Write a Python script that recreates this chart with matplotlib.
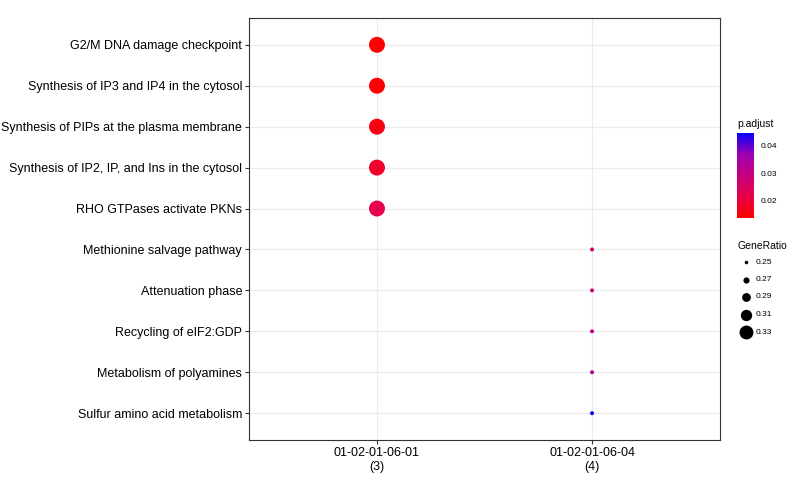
import matplotlib.pyplot as plt
import numpy as np
from matplotlib.colors import LinearSegmentedColormap, Normalize

plt.rcParams["font.family"] = ["Liberation Sans", "DejaVu Sans"]

terms = [
    "G2/M DNA damage checkpoint",
    "Synthesis of IP3 and IP4 in the cytosol",
    "Synthesis of PIPs at the plasma membrane",
    "Synthesis of IP2, IP, and Ins in the cytosol",
    "RHO GTPases activate PKNs",
    "Methionine salvage pathway",
    "Attenuation phase",
    "Recycling of eIF2:GDP",
    "Metabolism of polyamines",
    "Sulfur amino acid metabolism",
]
clusters = ["01-02-01-06-01\n(3)", "01-02-01-06-04\n(4)"]
term_cluster = [0, 0, 0, 0, 0, 1, 1, 1, 1, 1]
gene_ratio = [0.333, 0.333, 0.333, 0.333, 0.333, 0.25, 0.25, 0.25, 0.25, 0.25]
p_adjust = [0.0140, 0.0142, 0.0160, 0.0185, 0.0220, 0.0270, 0.0280, 0.0300, 0.0340, 0.0447]

# ggplot-style (Lab-like) red -> blue gradient
cmap = LinearSegmentedColormap.from_list(
    "rb", ["#FF0000", "#E8004A", "#C7007F", "#9A00B5", "#0000FF"])
norm = Normalize(0.0138, 0.0447)


def msize(r):
    d_px = 4 + (r - 0.25) / 0.0833 * 12
    return (d_px * 0.72) ** 2


fig = plt.figure(figsize=(8, 4.8), dpi=100)
ax = fig.add_axes([249 / 800, 1 - 440 / 480, 471 / 800, 422 / 480])
ys = np.arange(len(terms))[::-1]
ax.scatter(term_cluster, ys, s=[msize(r) for r in gene_ratio],
           c=[cmap(norm(p)) for p in p_adjust], zorder=3, linewidths=0)
ax.set_xlim(0.405 - 1, 1.595)
ax.set_ylim(-0.655, len(terms) - 1 + 0.655)
ax.set_xticks([0, 1])
ax.set_xticklabels(clusters, fontsize=9)
ax.set_yticks(ys)
ax.set_yticklabels(terms, fontsize=9)
ax.grid(True, color="#EBEBEB", linewidth=0.8)
ax.set_axisbelow(True)
for sp in ax.spines.values():
    sp.set_color("#333333")
    sp.set_linewidth(0.8)
ax.tick_params(length=3, color="#333333", colors="black", pad=2)

# colorbar
fig.text(737 / 800, 1 - 124 / 480, "p.adjust", fontsize=7.5, va="center")
cax = fig.add_axes([737 / 800, 1 - 218 / 480, 17 / 800, 85 / 480])
grad = np.linspace(0, 1, 256).reshape(-1, 1)
cax.imshow(grad, aspect="auto", cmap=cmap, origin="lower",
           extent=[0, 1, norm.vmin, norm.vmax])
cax.set_xticks([])
cax.yaxis.tick_right()
cax.set_yticks([0.02, 0.03, 0.04])
cax.set_yticklabels(["0.02", "0.03", "0.04"], fontsize=6)
cax.tick_params(length=3, color="white", pad=2)
for sp in cax.spines.values():
    sp.set_visible(False)

# size legend
fig.text(737 / 800, 1 - 246 / 480, "GeneRatio", fontsize=7.5, va="center")
legend_ratios = [0.25, 0.27, 0.29, 0.31, 0.33]
lax = fig.add_axes([737 / 800, 1 - 342 / 480, 50 / 800, 90 / 480])
lax.set_xlim(0, 50)
lax.set_ylim(0, 90)
lax.axis("off")
for i, r in enumerate(legend_ratios):
    y = 90 - (262 - 252) - i * 17.5
    lax.scatter([9], [y], s=msize(r) * 0.8, color="black", linewidths=0)
    lax.text(19, y, f"{r:.2f}", fontsize=6, va="center")

fig.savefig("out.png", dpi=100)
